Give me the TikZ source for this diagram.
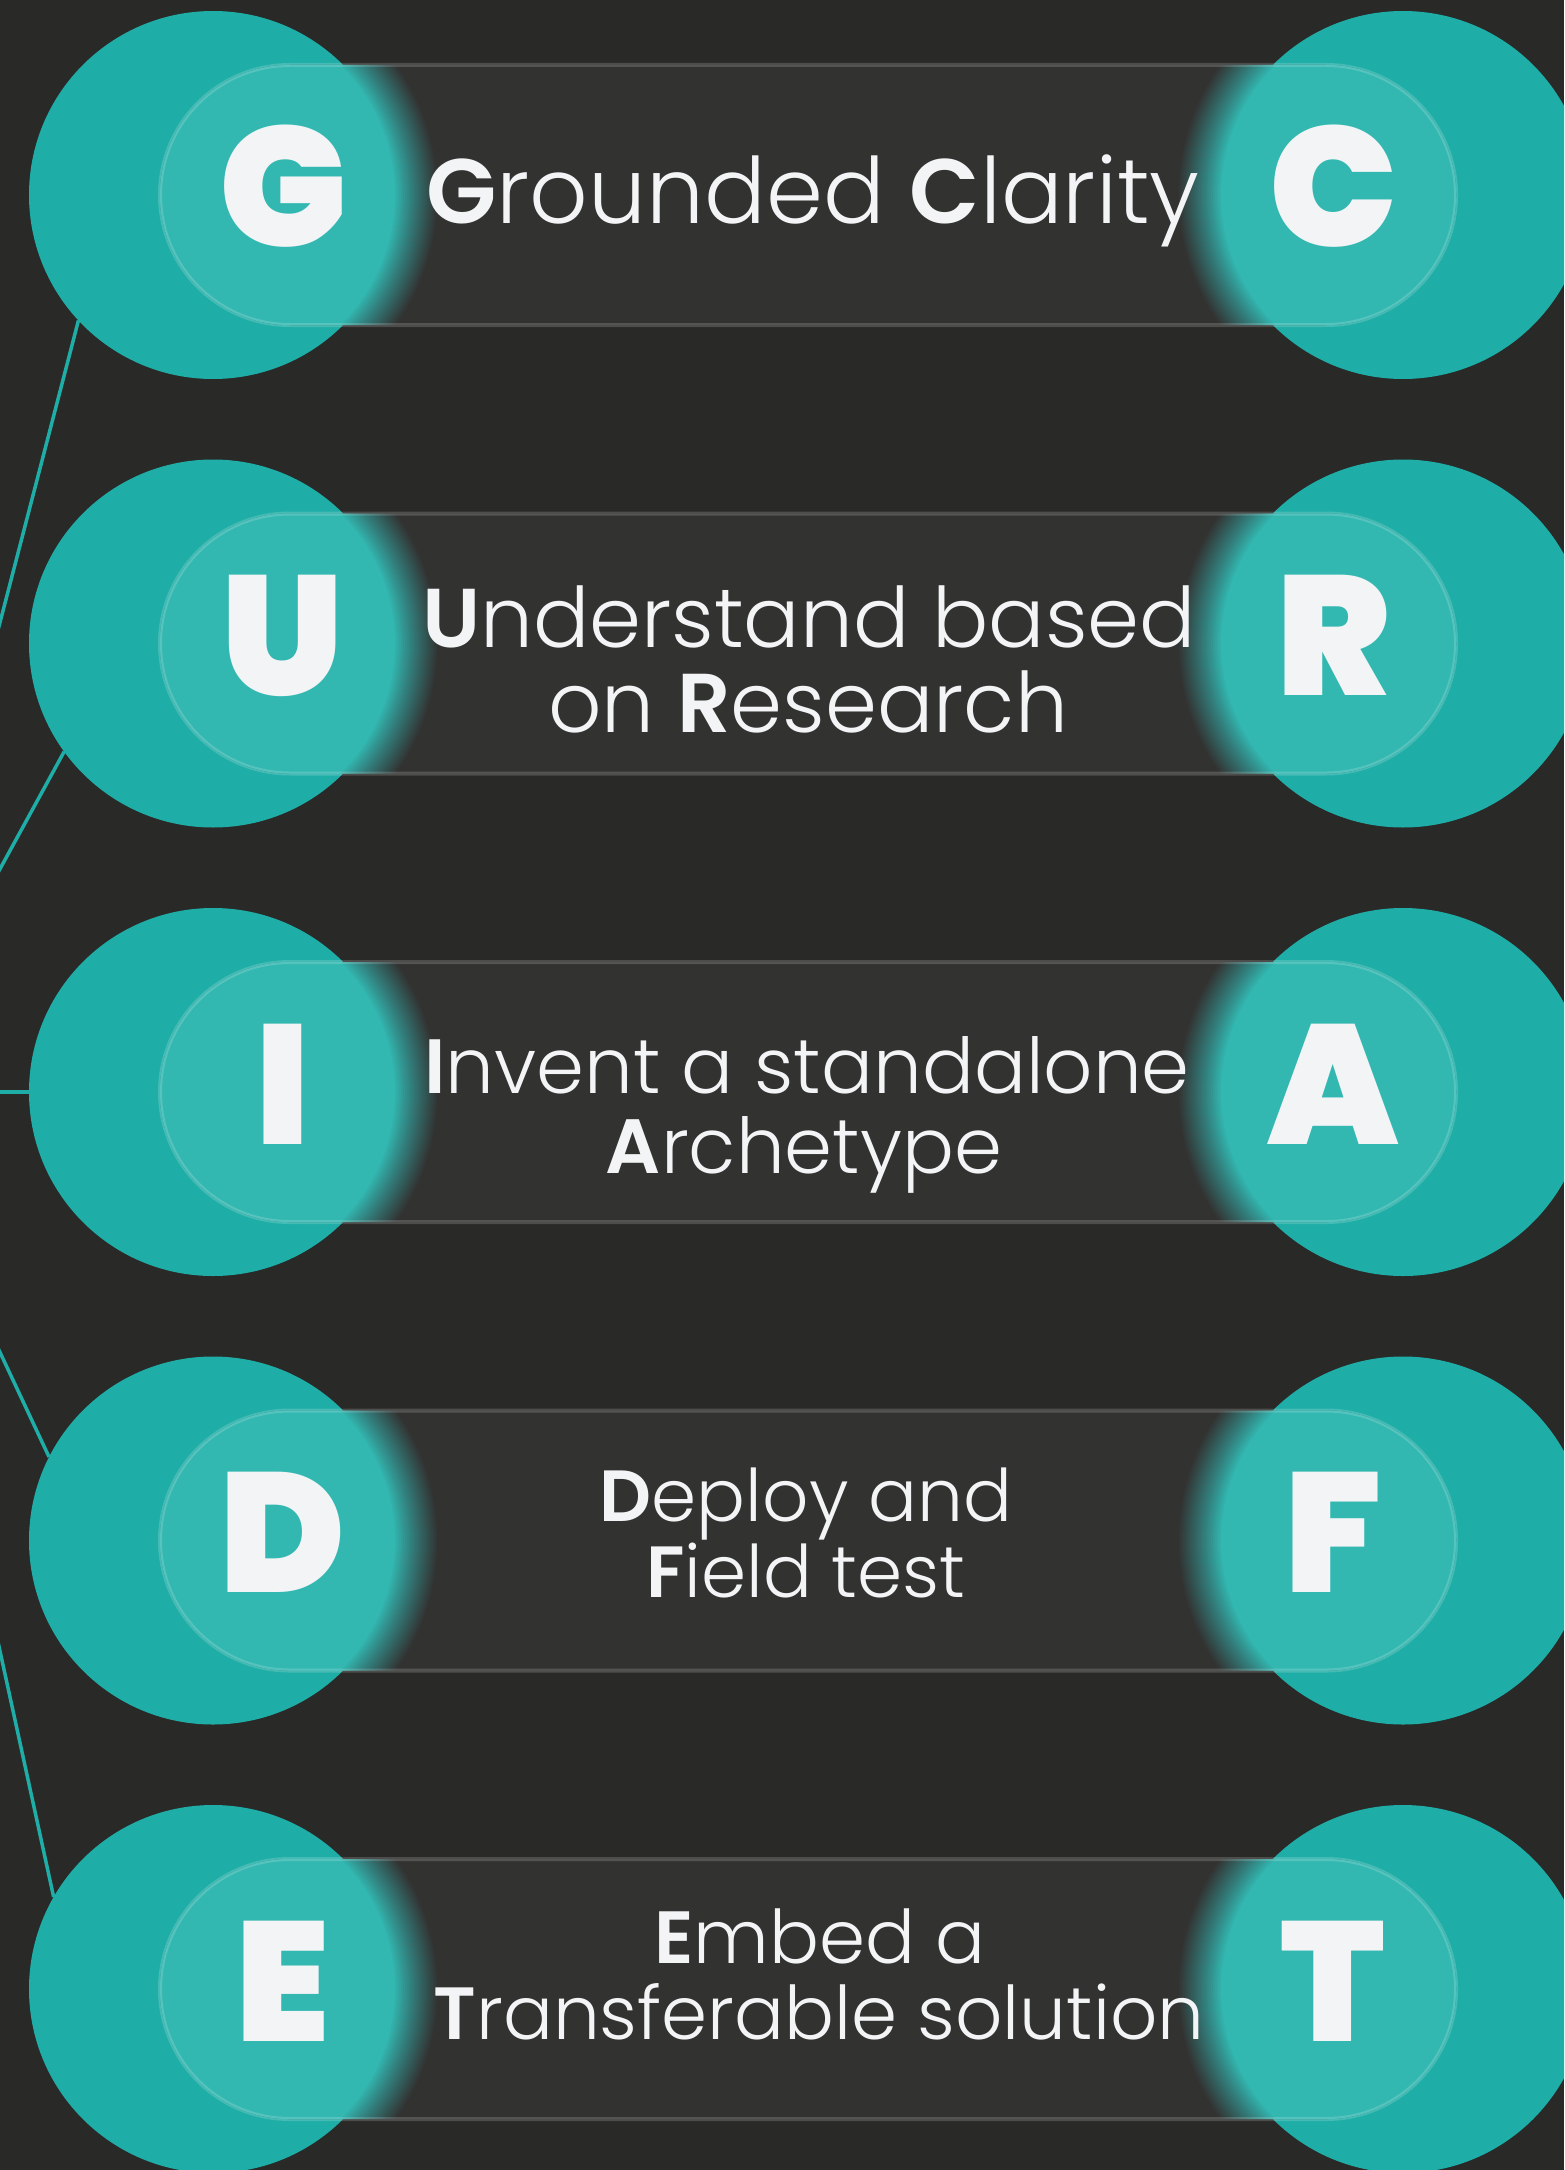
\documentclass[tikz,border=0pt]{standalone}
\usepackage{fontspec}
\setmainfont{Poppins}
\IfFontExistsTF{Poppins Light}{\newfontfamily\lightf{Poppins Light}}{\newfontfamily\lightf{Poppins}}
\IfFontExistsTF{Poppins SemiBold}{\newfontfamily\semif{Poppins SemiBold}}{\newcommand\semif{\bfseries}}
\IfFontExistsTF{Poppins Black}{\newfontfamily\heavyf{Poppins Black}}{%
  \newfontfamily\heavyfam{Poppins}[BoldFeatures={FakeBold=2}]\newcommand\heavyf{\heavyfam\bfseries}}
\newcommand\semi[1]{{\semif #1}}
\definecolor{bgc}{HTML}{292928}
\definecolor{teal1}{HTML}{1FAEA7}
\definecolor{teal2}{HTML}{2AB5AE}
\definecolor{ink}{HTML}{F3F4F6}
\tikzset{
  disc/.style={circle, fill=teal1, minimum size=368pt, inner sep=0pt, outer sep=0pt},
  link/.style={draw=teal1, line width=3.5pt},
  letter/.style={text=ink, inner sep=0pt, font=\heavyf\fontsize{170}{170}\selectfont},
  txt/.style={text=ink, inner sep=0pt, anchor=base},
}
% #1 = row centre y
\newcommand\glassrow[1]{%
  \begin{scope}
    \clip[rounded corners=130pt] (160,#1-130) rectangle (1456,#1+130);
    \fill[bgc] (150,#1-140) rectangle (1466,#1+140);
    \foreach \k in {1,...,22}{%
      \pgfmathsetmacro\rr{224-(\k-1)*2}%
      \pgfmathsetmacro\op{1/(23-\k)}%
      \fill[teal2, opacity=\op] (213,#1) circle (\rr pt);
      \fill[teal2, opacity=\op] (1403,#1) circle (\rr pt);
    }
    \fill[white, opacity=0.042] (150,#1-140) rectangle (1466,#1+140);
  \end{scope}
  \draw[white, opacity=0.17, line width=4pt, rounded corners=130pt] (160,#1-130) rectangle (1456,#1+130);
}
\begin{document}
\begin{tikzpicture}[x=1pt,y=-1pt]
\path[use as bounding box] (0,0) rectangle (1564,2170);
\clip (0,0) rectangle (1564,2170);
\fill[bgc] (0,0) rectangle (1564,2170);

% circles
\node[disc] (L1) at (213,195) {};
\node[disc] (L2) at (213,643.5) {};
\node[disc] (L3) at (213,1092) {};
\node[disc] (L4) at (213,1540.5) {};
\node[disc] (L5) at (213,1989) {};
\node[disc] (R1) at (1403,195) {};
\node[disc] (R2) at (1403,643.5) {};
\node[disc] (R3) at (1403,1092) {};
\node[disc] (R4) at (1403,1540.5) {};
\node[disc] (R5) at (1403,1989) {};

% connectors from an off-canvas hub
\coordinate (hub) at (-122,1092);
\draw[link] (hub) -- (L1.223.2);
\draw[link] (hub) -- (L2.216.7);
\draw[link] (hub) -- (L3.180);
\draw[link] (hub) -- (L4.153.4);
\draw[link] (hub) -- (L5.150.1);

% glass pills
\glassrow{195}
\glassrow{643.5}
\glassrow{1092}
\glassrow{1540.5}
\glassrow{1989}

% big letters
\node[letter] (lg) at (283,186) {G};
\node[letter] (rc) at (1333,186) {C};
\node[letter] (lu) at (283,635.5) {U};
\node[letter] (rr) at (1333,635.5) {R};
\node[letter] (li) at (283,1084) {I};
\node[letter] (ra) at (1333,1084) {A};
\node[letter] (ld) at (283,1532.5) {D};
\node[letter] (rf) at (1333,1532.5) {F};
\node[letter] (le) at (283,1981) {E};
\node[letter] (rt) at (1333,1981) {T};

% texts
\node[txt, font=\lightf\fontsize{91.5}{91.5}\selectfont] (t1) at (813,223) {\semi{G}rounded \semi{C}larity};
\node[txt, font=\lightf\fontsize{83.5}{83.5}\selectfont] (t2a) at (809,647) {\semi{U}nderstand based};
\node[txt, font=\lightf\fontsize{83.5}{83.5}\selectfont] (t2b) at (808,732) {on \semi{R}esearch};
\node[txt, font=\lightf\fontsize{77}{77}\selectfont] (t3a) at (807,1093) {\semi{I}nvent a standalone};
\node[txt, font=\lightf\fontsize{77}{77}\selectfont] (t3b) at (804,1173) {\semi{A}rchetype};
\node[txt, font=\lightf\fontsize{72.5}{72.5}\selectfont] (t4a) at (806,1521) {\semi{D}eploy and};
\node[txt, font=\lightf\fontsize{72.5}{72.5}\selectfont] (t4b) at (806,1597) {\semi{F}ield test};
\node[txt, font=\lightf\fontsize{74}{74}\selectfont] (t5a) at (820,1963) {\semi{E}mbed a};
\node[txt, font=\lightf\fontsize{74}{74}\selectfont] (t5b) at (819,2039) {\semi{T}ransferable solution};
\end{tikzpicture}
\end{document}
